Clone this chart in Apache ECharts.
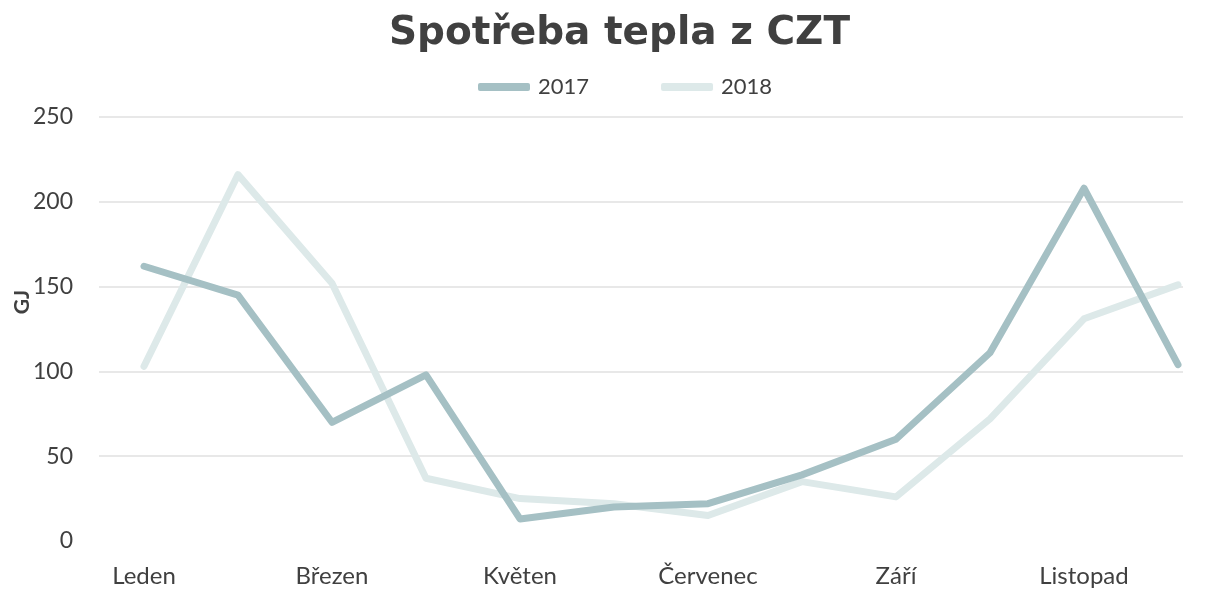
<!DOCTYPE html>
<html>
<head>
<meta charset="utf-8">
<script src="https://cdn.jsdelivr.net/npm/echarts@6/dist/echarts.min.js"></script>
<style>
html,body{margin:0;padding:0;background:#fff;}
#chart{width:1214px;height:589px;}
</style>
</head>
<body>
<div id="chart"></div>
<script>
var months = ['Leden','Únor','Březen','Duben','Květen','Červen','Červenec','Srpen','Září','Říjen','Listopad','Prosinec'];
var data2017 = [162, 145, 70, 98, 13, 20, 22, 39, 60, 111, 208, 104];
var data2018 = [103, 216, 152, 37, 25, 22, 15, 35, 26, 72, 131, 151];
var yTicks = [0, 50, 100, 150, 200, 250];

var FONT = 'Lato';
var chart = echarts.init(document.getElementById('chart'));
chart.setOption({
  backgroundColor: '#ffffff',
  animation: false,
  title: {
    text: 'Spotřeba tepla z CZT',
    left: 384,
    top: 9,
    textStyle: { fontFamily: 'DejaVu Sans', fontWeight: 'bold', fontSize: 39, color: '#404040' }
  },
  legend: {
    top: 71,
    left: 473,
    icon: 'roundRect',
    itemWidth: 52,
    itemHeight: 8,
    itemGap: 72,
    textStyle: { fontFamily: FONT, fontSize: 22, color: '#404040', padding: [0, 0, 0, 3] },
    data: ['2017', '2018']
  },
  graphic: [{
    type: 'text',
    x: 22,
    y: 302,
    rotation: Math.PI / 2,
    style: { text: 'GJ', fontFamily: FONT, fontWeight: 'bold', fontSize: 21, fill: '#404040', align: 'center', verticalAlign: 'middle' }
  }],
  grid: [
    { left: 99, right: 31, top: 117, bottom: 48 },
    { left: 144, right: 36, top: 117, bottom: 48 }
  ],
  xAxis: [
    { type: 'category', gridIndex: 0, data: months, show: false },
    {
      type: 'category', gridIndex: 1, data: months, boundaryGap: false,
      axisLine: { show: false }, axisTick: { show: false },
      axisLabel: { interval: 1, margin: 23, fontFamily: FONT, fontSize: 24, color: '#404040' }
    }
  ],
  yAxis: [
    {
      type: 'value', gridIndex: 0, min: yTicks[0], max: yTicks[yTicks.length - 1], interval: 50,
      axisLine: { show: false }, axisTick: { show: false },
      splitLine: { show: true, showMinLine: false, lineStyle: { color: '#e8e8e8', width: 2 } },
      axisLabel: { margin: 26, fontFamily: FONT, fontSize: 23, color: '#404040' }
    },
    {
      type: 'value', gridIndex: 1, min: yTicks[0], max: yTicks[yTicks.length - 1], interval: 50,
      show: false, splitLine: { show: false }
    }
  ],
  series: [
    {
      name: '2017', type: 'line', xAxisIndex: 1, yAxisIndex: 1, data: data2017,
      showSymbol: false, symbol: 'none',
      lineStyle: { color: '#a5c0c4', width: 7, cap: 'round', join: 'round' },
      itemStyle: { color: '#a5c0c4' }, z: 3
    },
    {
      name: '2018', type: 'line', xAxisIndex: 1, yAxisIndex: 1, data: data2018,
      showSymbol: false, symbol: 'none',
      lineStyle: { color: '#dde9e9', width: 7, cap: 'round', join: 'round' },
      itemStyle: { color: '#dde9e9' }, z: 2
    }
  ]
});
</script>
</body>
</html>
